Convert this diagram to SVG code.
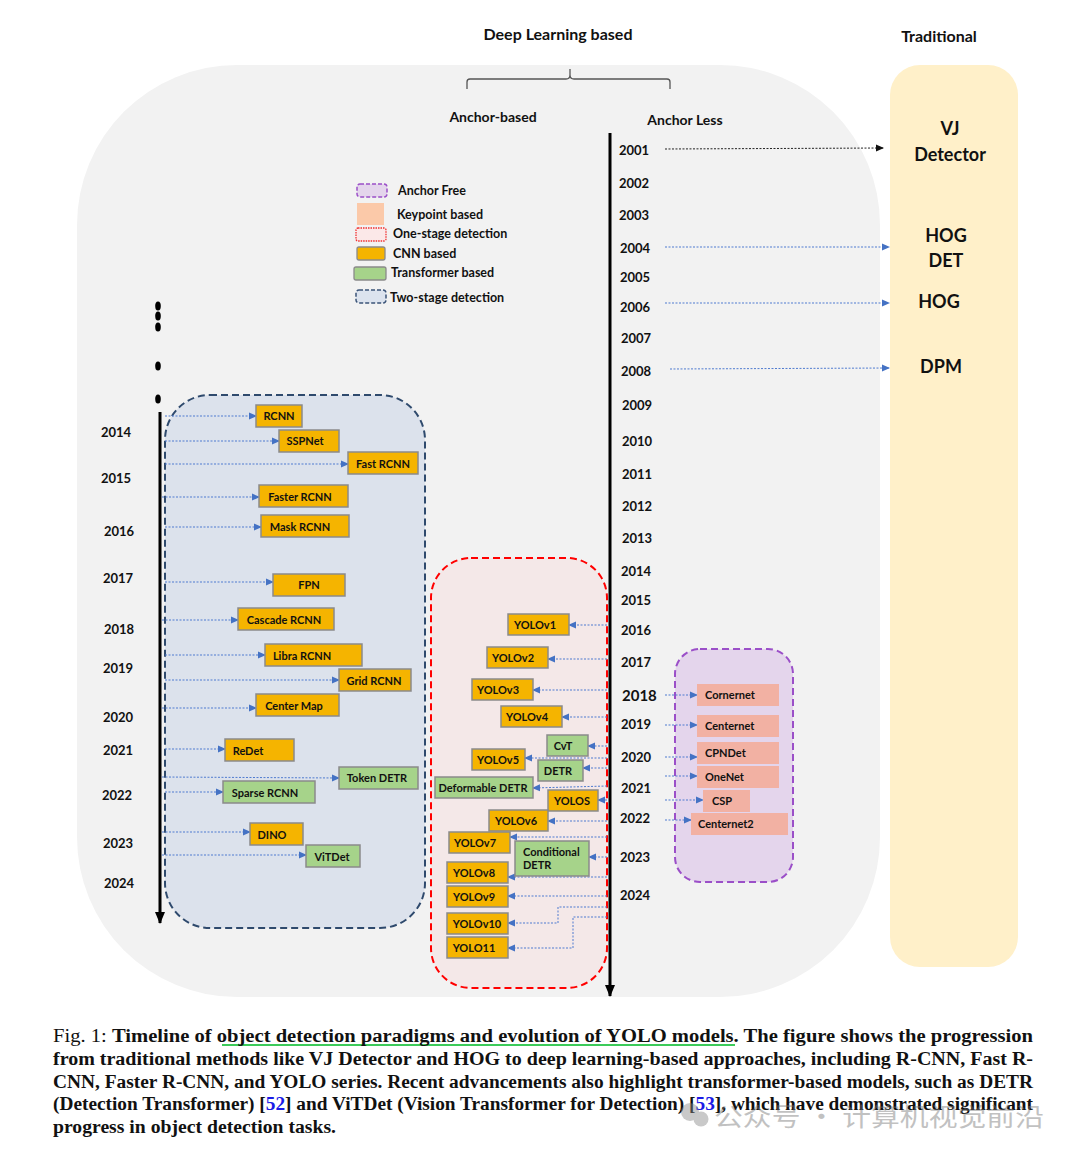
<svg xmlns="http://www.w3.org/2000/svg" width="1080" height="1158" viewBox="0 0 1080 1158">
<defs>
<marker id="ab" viewBox="0 0 8 8" refX="7" refY="4" markerWidth="8" markerHeight="8" markerUnits="userSpaceOnUse" orient="auto"><path d="M0,0.5 L8,4 L0,7.5 Z" fill="#4472C4"/></marker>
<marker id="ak" viewBox="0 0 8 8" refX="7" refY="4" markerWidth="8" markerHeight="8" markerUnits="userSpaceOnUse" orient="auto"><path d="M0,0.5 L8,4 L0,7.5 Z" fill="#111"/></marker>
<marker id="tl" viewBox="0 0 12 10" refX="11" refY="5" markerWidth="12" markerHeight="10" markerUnits="userSpaceOnUse" orient="auto"><path d="M0,0 L12,5 L0,10 Z" fill="#000"/></marker>
</defs>
<style>
text{font-family:Lato,"Liberation Sans",sans-serif;font-weight:bold;fill:#111}
.yr{font-size:13px}
.lg{font-size:12.5px}
.bx{font-size:11px;text-anchor:middle}
.cnn{fill:#F5B400;stroke:#8A8A8A;stroke-width:1.5}
.tr{fill:#A6D38A;stroke:#8A8A8A;stroke-width:1.5}
.kp{fill:#F2B1A3}
.con{fill:none;stroke:#4F7BD0;stroke-width:1;stroke-dasharray:2 1.5}
.trad{font-size:18px;text-anchor:middle}
.cap{font-family:"Liberation Serif",serif;font-size:18.5px;font-weight:bold;fill:#111}
</style>
<rect width="1080" height="1158" fill="#fff"/>
<rect x="77" y="65" width="803" height="932" rx="160" ry="160" fill="#F2F2F2"/>
<rect x="890" y="65" width="128" height="902" rx="30" fill="#FFF0C9"/>
<text x="558" y="40" font-size="16" text-anchor="middle">Deep Learning based</text>
<text x="939" y="42" font-size="16" text-anchor="middle">Traditional</text>
<path d="M467,89 V82 Q467,79 470,79 H566 Q570,79 570,75 V69 M570,75 Q570,79 574,79 H667 Q670,79 670,82 V89" fill="none" stroke="#555" stroke-width="1.3"/>
<text x="493" y="122" font-size="14" text-anchor="middle">Anchor-based</text>
<text x="685" y="125" font-size="14" text-anchor="middle">Anchor Less</text>
<g id="legend">
<rect x="357" y="184" width="30" height="13" rx="3" fill="#E4D5EC" stroke="#9B4FC8" stroke-width="1.5" stroke-dasharray="4 2"/>
<text class="lg" x="398" y="195">Anchor Free</text>
<rect x="357" y="203" width="27" height="22" fill="#FBC9A9"/>
<text class="lg" x="397" y="219">Keypoint based</text>
<rect x="356" y="228" width="30" height="13" rx="2" fill="#FBE8E8" stroke="#F03030" stroke-width="1.3" stroke-dasharray="1.5 1"/>
<text class="lg" x="393" y="238">One-stage detection</text>
<rect x="357" y="247" width="28" height="13" rx="2" fill="#F5B400" stroke="#8A8A8A" stroke-width="1.3"/>
<text class="lg" x="393" y="258">CNN based</text>
<rect x="354" y="267" width="32" height="13" rx="2" fill="#A6D38A" stroke="#8A8A8A" stroke-width="1.3"/>
<text class="lg" x="391" y="277">Transformer based</text>
<rect x="356" y="290" width="30" height="13" rx="3" fill="#DCE3EE" stroke="#3B5478" stroke-width="1.5" stroke-dasharray="4 2"/>
<text class="lg" x="390" y="302">Two-stage detection</text>
</g>
<g id="two-stage-group"><rect x="165" y="395" width="260" height="533" rx="45" fill="#DCE2EC" stroke="#2F4A6D" stroke-width="2" stroke-dasharray="7 4"/></g>
<g id="one-stage-group"><rect x="431" y="558" width="176" height="430" rx="40" fill="#F4E8E8" stroke="#FF0000" stroke-width="2" stroke-dasharray="7 4"/></g>
<g id="anchor-free-group"><rect x="675" y="649" width="118" height="233" rx="25" fill="#E4D5EC" stroke="#9B4FC8" stroke-width="2" stroke-dasharray="7 4"/></g>
<g id="timelines">
<ellipse cx="158" cy="306" rx="2.8" ry="4.5" fill="#000"/>
<ellipse cx="158" cy="316" rx="2.8" ry="4.5" fill="#000"/>
<ellipse cx="158" cy="327" rx="2.8" ry="4.5" fill="#000"/>
<ellipse cx="158" cy="366" rx="2.8" ry="4.5" fill="#000"/>
<ellipse cx="158" cy="399" rx="2.8" ry="4.5" fill="#000"/>
<line x1="160" y1="412" x2="160" y2="923" stroke="#000" stroke-width="3" marker-end="url(#tl)"/>
<line x1="610" y1="133" x2="610" y2="996" stroke="#000" stroke-width="3" marker-end="url(#tl)"/>
</g>
<g id="years-left">
<text class="yr" x="101" y="437">2014</text>
<text class="yr" x="101" y="483">2015</text>
<text class="yr" x="104" y="536">2016</text>
<text class="yr" x="103" y="583">2017</text>
<text class="yr" x="104" y="634">2018</text>
<text class="yr" x="103" y="673">2019</text>
<text class="yr" x="103" y="722">2020</text>
<text class="yr" x="103" y="755">2021</text>
<text class="yr" x="102" y="800">2022</text>
<text class="yr" x="103" y="848">2023</text>
<text class="yr" x="104" y="888">2024</text>
</g>
<g id="years-mid">
<text class="yr" x="619" y="155">2001</text>
<text class="yr" x="619" y="188">2002</text>
<text class="yr" x="619" y="220">2003</text>
<text class="yr" x="620" y="253">2004</text>
<text class="yr" x="620" y="282">2005</text>
<text class="yr" x="620" y="312">2006</text>
<text class="yr" x="621" y="343">2007</text>
<text class="yr" x="621" y="376">2008</text>
<text class="yr" x="622" y="410">2009</text>
<text class="yr" x="622" y="446">2010</text>
<text class="yr" x="622" y="479">2011</text>
<text class="yr" x="622" y="511">2012</text>
<text class="yr" x="622" y="543">2013</text>
<text class="yr" x="621" y="576">2014</text>
<text class="yr" x="621" y="605">2015</text>
<text class="yr" x="621" y="635">2016</text>
<text class="yr" x="621" y="667">2017</text>
<text x="622" y="701" font-size="15">2018</text>
<text class="yr" x="621" y="729">2019</text>
<text class="yr" x="621" y="762">2020</text>
<text class="yr" x="621" y="793">2021</text>
<text class="yr" x="620" y="823">2022</text>
<text class="yr" x="620" y="862">2023</text>
<text class="yr" x="620" y="900">2024</text>
</g>
<g id="connectors">
<line x1="665" y1="149" x2="883" y2="148" stroke="#222" stroke-width="1" stroke-dasharray="2 1.5" marker-end="url(#ak)"/>
<line class="con" x1="665" y1="247" x2="889" y2="247" marker-end="url(#ab)"/>
<line class="con" x1="665" y1="303" x2="889" y2="303" marker-end="url(#ab)"/>
<line class="con" x1="670" y1="369" x2="889" y2="368" marker-end="url(#ab)"/>
<line class="con" x1="165" y1="416" x2="256" y2="416" marker-end="url(#ab)"/>
<line class="con" x1="165" y1="441" x2="279" y2="441" marker-end="url(#ab)"/>
<line class="con" x1="165" y1="464" x2="348" y2="464" marker-end="url(#ab)"/>
<line class="con" x1="162" y1="497" x2="259" y2="497" marker-end="url(#ab)"/>
<line class="con" x1="165" y1="527" x2="261" y2="527" marker-end="url(#ab)"/>
<line class="con" x1="165" y1="582" x2="273" y2="582" marker-end="url(#ab)"/>
<line class="con" x1="162" y1="620" x2="238" y2="620" marker-end="url(#ab)"/>
<line class="con" x1="165" y1="655" x2="265" y2="655" marker-end="url(#ab)"/>
<line class="con" x1="165" y1="680" x2="339" y2="680" marker-end="url(#ab)"/>
<line class="con" x1="162" y1="708" x2="256" y2="708" marker-end="url(#ab)"/>
<line class="con" x1="165" y1="749" x2="225" y2="749" marker-end="url(#ab)"/>
<line class="con" x1="162" y1="777" x2="339" y2="778" marker-end="url(#ab)"/>
<line class="con" x1="165" y1="792" x2="223" y2="792" marker-end="url(#ab)"/>
<line class="con" x1="162" y1="832" x2="250" y2="832" marker-end="url(#ab)"/>
<line class="con" x1="162" y1="855" x2="306" y2="855" marker-end="url(#ab)"/>
<line class="con" x1="607" y1="625" x2="569" y2="625" marker-end="url(#ab)"/>
<line class="con" x1="607" y1="659" x2="548" y2="659" marker-end="url(#ab)"/>
<line class="con" x1="607" y1="690" x2="533" y2="690" marker-end="url(#ab)"/>
<line class="con" x1="607" y1="717" x2="562" y2="717" marker-end="url(#ab)"/>
<line class="con" x1="607" y1="746" x2="588" y2="746" marker-end="url(#ab)"/>
<line class="con" x1="607" y1="758" x2="525" y2="758" marker-end="url(#ab)"/>
<line class="con" x1="607" y1="768" x2="583" y2="768" marker-end="url(#ab)"/>
<line class="con" x1="607" y1="786" x2="533" y2="788" marker-end="url(#ab)"/>
<line class="con" x1="607" y1="800" x2="598" y2="800" marker-end="url(#ab)"/>
<line class="con" x1="607" y1="821" x2="548" y2="821" marker-end="url(#ab)"/>
<line class="con" x1="607" y1="837" x2="510" y2="837" marker-end="url(#ab)"/>
<line class="con" x1="607" y1="857" x2="589" y2="857" marker-end="url(#ab)"/>
<line class="con" x1="607" y1="877" x2="508" y2="877" marker-end="url(#ab)"/>
<line class="con" x1="607" y1="896" x2="508" y2="896" marker-end="url(#ab)"/>
<polyline class="con" points="607,907 558,907 558,923 508,923" marker-end="url(#ab)"/>
<polyline class="con" points="607,917 573,917 573,948 508,948" marker-end="url(#ab)"/>
<line class="con" x1="665" y1="695" x2="697" y2="695" marker-end="url(#ab)"/>
<line class="con" x1="665" y1="725" x2="697" y2="725" marker-end="url(#ab)"/>
<line class="con" x1="665" y1="757" x2="697" y2="757" marker-end="url(#ab)"/>
<line class="con" x1="665" y1="776" x2="697" y2="776" marker-end="url(#ab)"/>
<line class="con" x1="665" y1="800" x2="703" y2="800" marker-end="url(#ab)"/>
<line class="con" x1="665" y1="820" x2="691" y2="820" marker-end="url(#ab)"/>
</g>
<g id="trad-vj"><text class="trad" x="950" y="135">VJ</text><text class="trad" x="950" y="161">Detector</text></g>
<g id="trad-hogdet"><text class="trad" x="946" y="242">HOG</text><text class="trad" x="946" y="267">DET</text></g>
<g id="trad-hog"><text class="trad" x="939" y="308">HOG</text></g>
<g id="trad-dpm"><text class="trad" x="941" y="373">DPM</text></g>
<g id="n-rcnn"><rect class="cnn" x="256" y="405" width="46" height="22"/><text class="bx" x="279" y="420">RCNN</text></g>
<g id="n-sppnet"><rect class="cnn" x="279" y="430" width="60" height="22"/><text class="bx" x="305" y="445">SSPNet</text></g>
<g id="n-fastrcnn"><rect class="cnn" x="348" y="452" width="70" height="22"/><text class="bx" x="383" y="468">Fast RCNN</text></g>
<g id="n-fasterrcnn"><rect class="cnn" x="259" y="485" width="89" height="22"/><text class="bx" x="300" y="501">Faster RCNN</text></g>
<g id="n-maskrcnn"><rect class="cnn" x="261" y="515" width="88" height="22"/><text class="bx" x="300" y="531">Mask RCNN</text></g>
<g id="n-fpn"><rect class="cnn" x="273" y="574" width="72" height="22"/><text class="bx" x="309" y="589">FPN</text></g>
<g id="n-cascade"><rect class="cnn" x="238" y="608" width="96" height="22"/><text class="bx" x="284" y="624">Cascade RCNN</text></g>
<g id="n-libra"><rect class="cnn" x="265" y="644" width="97" height="22"/><text class="bx" x="302" y="660">Libra RCNN</text></g>
<g id="n-grid"><rect class="cnn" x="339" y="669" width="72" height="22"/><text class="bx" x="374" y="685">Grid RCNN</text></g>
<g id="n-centermap"><rect class="cnn" x="256" y="694" width="83" height="22"/><text class="bx" x="294" y="710">Center Map</text></g>
<g id="n-redet"><rect class="cnn" x="225" y="739" width="69" height="22"/><text class="bx" x="248" y="755">ReDet</text></g>
<g id="n-tokendetr"><rect class="tr" x="339" y="767" width="79" height="22"/><text class="bx" x="377" y="782">Token DETR</text></g>
<g id="n-sparsercnn"><rect class="tr" x="223" y="781" width="92" height="22"/><text class="bx" x="265" y="797">Sparse RCNN</text></g>
<g id="n-dino"><rect class="cnn" x="250" y="823" width="53" height="22"/><text class="bx" x="272" y="839">DINO</text></g>
<g id="n-vitdet"><rect class="tr" x="306" y="845" width="54" height="22"/><text class="bx" x="332" y="861">ViTDet</text></g>
<g id="n-yolov1"><rect class="cnn" x="508" y="614" width="61" height="21"/><text class="bx" x="535" y="629">YOLOv1</text></g>
<g id="n-yolov2"><rect class="cnn" x="487" y="647" width="61" height="21"/><text class="bx" x="513" y="662">YOLOv2</text></g>
<g id="n-yolov3"><rect class="cnn" x="472" y="679" width="61" height="21"/><text class="bx" x="498" y="694">YOLOv3</text></g>
<g id="n-yolov4"><rect class="cnn" x="501" y="706" width="61" height="21"/><text class="bx" x="527" y="721">YOLOv4</text></g>
<g id="n-cvt"><rect class="tr" x="547" y="735" width="41" height="21"/><text class="bx" x="563" y="750">CvT</text></g>
<g id="n-yolov5"><rect class="cnn" x="472" y="749" width="53" height="21"/><text class="bx" x="498" y="764">YOLOv5</text></g>
<g id="n-detr"><rect class="tr" x="538" y="760" width="45" height="21"/><text class="bx" x="558" y="775">DETR</text></g>
<g id="n-deformdetr"><rect class="tr" x="435" y="777" width="98" height="21"/><text class="bx" x="483" y="792">Deformable DETR</text></g>
<g id="n-yolos"><rect class="cnn" x="548" y="790" width="50" height="21"/><text class="bx" x="572" y="805">YOLOS</text></g>
<g id="n-yolov6"><rect class="cnn" x="489" y="810" width="59" height="21"/><text class="bx" x="516" y="825">YOLOv6</text></g>
<g id="n-yolov7"><rect class="cnn" x="449" y="832" width="61" height="21"/><text class="bx" x="475" y="847">YOLOv7</text></g>
<g id="n-conddetr"><rect class="tr" x="515" y="841" width="74" height="35"/><text x="523" y="856" font-size="11">Conditional</text><text x="523" y="869" font-size="11">DETR</text></g>
<g id="n-yolov8"><rect class="cnn" x="447" y="862" width="61" height="21"/><text class="bx" x="474" y="877">YOLOv8</text></g>
<g id="n-yolov9"><rect class="cnn" x="447" y="886" width="61" height="21"/><text class="bx" x="474" y="901">YOLOv9</text></g>
<g id="n-yolov10"><rect class="cnn" x="447" y="913" width="61" height="21"/><text class="bx" x="477" y="928">YOLOv10</text></g>
<g id="n-yolo11"><rect class="cnn" x="447" y="937" width="61" height="21"/><text class="bx" x="474" y="952">YOLO11</text></g>
<g id="n-cornernet"><rect class="kp" x="697" y="684" width="82" height="22"/><text x="705" y="699" font-size="11">Cornernet</text></g>
<g id="n-centernet"><rect class="kp" x="697" y="715" width="82" height="22"/><text x="705" y="730" font-size="11">Centernet</text></g>
<g id="n-cpndet"><rect class="kp" x="697" y="742" width="82" height="22"/><text x="705" y="757" font-size="11">CPNDet</text></g>
<g id="n-onenet"><rect class="kp" x="697" y="766" width="82" height="22"/><text x="705" y="781" font-size="11">OneNet</text></g>
<g id="n-csp"><rect class="kp" x="703" y="790" width="47" height="22"/><text x="712" y="805" font-size="11">CSP</text></g>
<g id="n-centernet2"><rect class="kp" x="691" y="813" width="97" height="22"/><text x="698" y="828" font-size="11">Centernet2</text></g>
<g id="caption">
<line x1="222" y1="1045" x2="735" y2="1045" stroke="#3CCB5A" stroke-width="2"/>
<text class="cap" x="53" y="1042" textLength="980" lengthAdjust="spacingAndGlyphs"><tspan font-weight="normal">Fig. 1: </tspan>Timeline of object detection paradigms and evolution of YOLO models. The figure shows the progression</text>
<text class="cap" x="53" y="1065" textLength="980" lengthAdjust="spacingAndGlyphs">from traditional methods like VJ Detector and HOG to deep learning-based approaches, including R-CNN, Fast R-</text>
<text class="cap" x="53" y="1088" textLength="980" lengthAdjust="spacingAndGlyphs">CNN, Faster R-CNN, and YOLO series. Recent advancements also highlight transformer-based models, such as DETR</text>
<text class="cap" x="53" y="1110" textLength="980" lengthAdjust="spacingAndGlyphs">(Detection Transformer) [<tspan fill="#1A1AE6">52</tspan>] and ViTDet (Vision Transformer for Detection) [<tspan fill="#1A1AE6">53</tspan>], which have demonstrated significant</text>
<text class="cap" x="53" y="1133" textLength="283" lengthAdjust="spacingAndGlyphs">progress in object detection tasks.</text>
</g>
<g id="watermark" opacity="0.45">
<circle cx="690" cy="1112" r="9" fill="#888"/><circle cx="701" cy="1119" r="7.5" fill="#888"/>
<text x="714" y="1126" font-size="25" textLength="330" lengthAdjust="spacingAndGlyphs" style="font-family:'Noto Sans CJK SC',sans-serif;font-weight:normal;fill:#777">公众号 · 计算机视觉前沿</text>
</g>
</svg>
